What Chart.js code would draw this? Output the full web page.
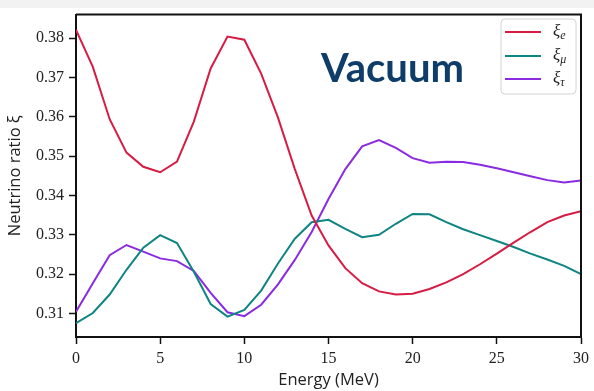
<!DOCTYPE html>
<html>
<head>
<meta charset="utf-8">
<script src="https://cdn.jsdelivr.net/npm/chart.js@4/dist/chart.umd.min.js"></script>
<style>
  html, body { margin: 0; padding: 0; background: #ffffff; }
  #wrap { position: relative; width: 594px; height: 391px; }
</style>
</head>
<body>
<div id="wrap"><canvas id="c" width="594" height="391"></canvas></div>
<script>
// ---- data ----
const energies = [0,1,2,3,4,5,6,7,8,9,10,11,12,13,14,15,16,17,18,19,20,21,22,23,24,25,26,27,28,29,30];
const xiE = [0.3821,0.3727,0.3594,0.3509,0.3473,0.3459,0.3486,0.3588,0.3723,0.3804,0.3796,0.3710,0.3598,0.3467,0.3349,0.3273,0.3215,0.3177,0.3156,0.3148,0.3150,0.3162,0.3179,0.3200,0.3225,0.3252,0.3280,0.3307,0.3332,0.3349,0.3360];
const xiMu = [0.3075,0.3101,0.3148,0.3211,0.3267,0.3299,0.3279,0.3206,0.3124,0.3092,0.3109,0.3158,0.3227,0.3290,0.3332,0.3338,0.3315,0.3294,0.3300,0.3328,0.3353,0.3352,0.3332,0.3314,0.3299,0.3284,0.3269,0.3252,0.3237,0.3221,0.3200];
const xiTau = [0.3104,0.3177,0.3248,0.3274,0.3257,0.3240,0.3233,0.3208,0.3152,0.3103,0.3093,0.3122,0.3174,0.3236,0.3307,0.3391,0.3467,0.3525,0.3541,0.3521,0.3495,0.3483,0.3486,0.3485,0.3478,0.3469,0.3459,0.3449,0.3439,0.3433,0.3438];
const yTicks = [0.31,0.32,0.33,0.34,0.35,0.36,0.37,0.38];
const xTicks = [0,5,10,15,20,25,30];
const seriesNames = ['e','μ','τ'];
const seriesColors = ['#d81b43','#0e8583','#8a2be2'];
const panelTitle = 'Vacuum';

function pts(arr){ return energies.map((e,i)=>({x:e,y:arr[i]})); }

const decor = {
  id: 'decor',
  beforeDraw(chart){
    const ctx = chart.ctx;
    ctx.save();
    ctx.fillStyle = '#ffffff';
    ctx.fillRect(0,0,chart.width,chart.height);
    ctx.fillStyle = '#f2f2f2';
    ctx.fillRect(0,0,chart.width,8);
    ctx.restore();
  },
  afterDraw(chart){
    const ctx = chart.ctx, a = chart.chartArea;
    ctx.save();
    // top and right frame
    ctx.strokeStyle = '#111';
    ctx.lineWidth = 2;
    ctx.beginPath();
    ctx.moveTo(a.left, a.top); ctx.lineTo(a.right, a.top); ctx.lineTo(a.right, a.bottom);
    ctx.stroke();
    // panel title
    ctx.fillStyle = '#0f3d6a';
    ctx.font = 'bold 40px Lato';
    ctx.textBaseline = 'alphabetic';
    ctx.fillText(panelTitle, 321, 82);
    // legend
    const lx = 501, ly = 19, lw = 75, lh = 75, r = 4;
    ctx.beginPath();
    ctx.moveTo(lx+r, ly); ctx.lineTo(lx+lw-r, ly); ctx.arcTo(lx+lw, ly, lx+lw, ly+r, r);
    ctx.lineTo(lx+lw, ly+lh-r); ctx.arcTo(lx+lw, ly+lh, lx+lw-r, ly+lh, r);
    ctx.lineTo(lx+r, ly+lh); ctx.arcTo(lx, ly+lh, lx, ly+lh-r, r);
    ctx.lineTo(lx, ly+r); ctx.arcTo(lx, ly, lx+r, ly, r);
    ctx.closePath();
    ctx.fillStyle = 'rgba(255,255,255,0.85)';
    ctx.fill();
    ctx.strokeStyle = '#d4d4d4';
    ctx.lineWidth = 1;
    ctx.stroke();
    const rows = [32, 56, 79];
    chart.data.datasets.forEach((ds, i) => {
      const y = rows[i];
      ctx.strokeStyle = ds.borderColor;
      ctx.lineWidth = 2;
      ctx.beginPath(); ctx.moveTo(505, y); ctx.lineTo(541, y); ctx.stroke();
      ctx.fillStyle = '#222';
      ctx.textBaseline = 'alphabetic';
      ctx.font = 'italic 17px "Liberation Serif"';
      ctx.fillText('ξ', 553, y + 4);
      const w = ctx.measureText('ξ').width;
      ctx.font = 'italic 12px "Liberation Serif"';
      ctx.fillText(seriesNames[i], 553 + w, y + 7);
    });
    ctx.restore();
  }
};

new Chart(document.getElementById('c'), {
  type: 'line',
  data: {
    datasets: [
      { label: 'ξe', data: pts(xiE), borderColor: seriesColors[0] },
      { label: 'ξμ', data: pts(xiMu), borderColor: seriesColors[1] },
      { label: 'ξτ', data: pts(xiTau), borderColor: seriesColors[2] }
    ].map(d => Object.assign(d, { borderWidth: 2, pointRadius: 0, tension: 0, fill: false }))
  },
  options: {
    responsive: false,
    animation: false,
    devicePixelRatio: 1,
    layout: { padding: { left: 0, top: 11, right: 11, bottom: 0 } },
    plugins: { legend: { display: false }, tooltip: { enabled: false } },
    scales: {
      x: {
        type: 'linear', min: 0, max: 30,
        afterBuildTicks: s => { s.ticks = xTicks.map(v => ({ value: v })); },
        afterFit: s => { s.height = 54; },
        ticks: { color: '#222', font: { family: '"Liberation Serif"', size: 16 }, padding: 5, maxRotation: 0,
                 callback: v => String(v) },
        grid: { display: true, drawOnChartArea: false, drawTicks: true, tickLength: 7, tickWidth: 1.5, color: '#111' },
        border: { display: true, color: '#111', width: 2 },
        title: { display: true, text: 'Energy (MeV)', color: '#222',
                 font: { family: '"Open Sans"', size: 16.5 }, padding: { top: 0, bottom: 1 } }
      },
      y: {
        type: 'linear', min: 0.304, max: 0.386,
        afterBuildTicks: s => { s.ticks = yTicks.map(v => ({ value: v })); },
        afterFit: s => { s.width = 76; },
        ticks: { color: '#222', font: { family: '"Liberation Serif"', size: 16 }, padding: 5,
                 callback: v => Number(v).toFixed(2) },
        grid: { display: true, drawOnChartArea: false, drawTicks: true, tickLength: 7, tickWidth: 1.5, color: '#111' },
        border: { display: true, color: '#111', width: 2 },
        title: { display: true, text: 'Neutrino ratio ξ', color: '#222',
                 font: { family: '"Open Sans"', size: 16.5 }, padding: { top: 5, bottom: 0 } }
      }
    }
  },
  plugins: [decor]
});
</script>
</body>
</html>
